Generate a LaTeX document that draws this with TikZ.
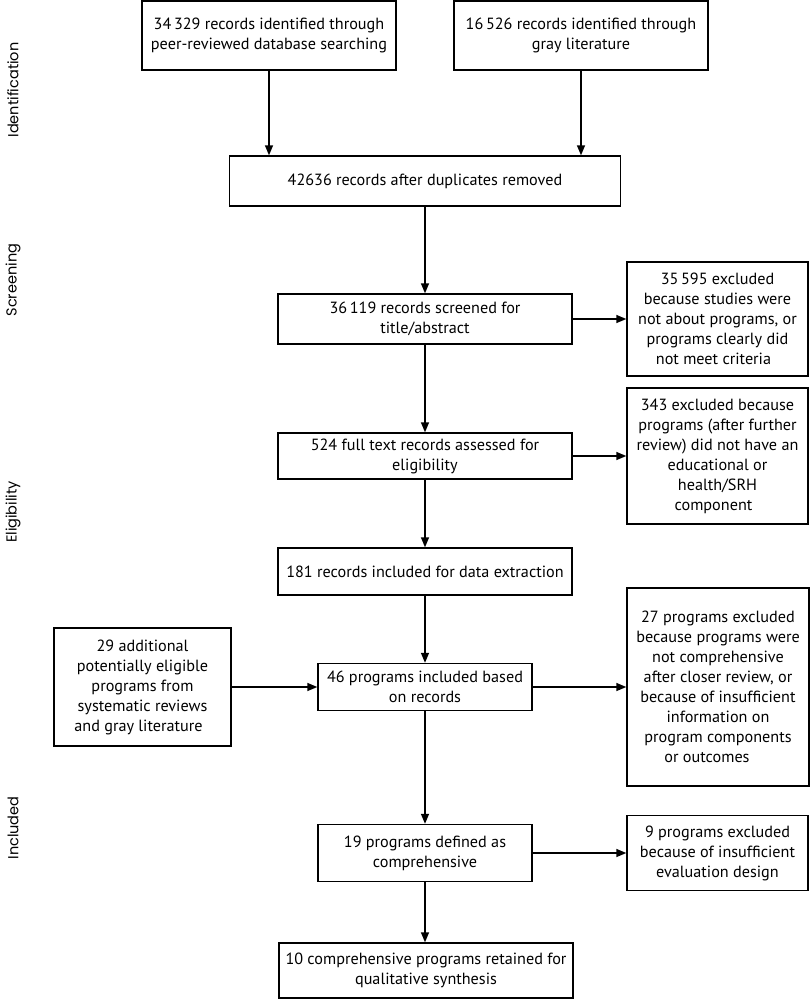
\documentclass[tikz,border=0pt]{standalone}
\usepackage{fontspec}
\setmainfont{PT Sans}
\newfontfamily\sidefont{Poppins}
\usetikzlibrary{arrows.meta}
\begin{document}
\begin{tikzpicture}[x=1pt,y=-1pt,
  box/.style={draw=black, line width=1.4pt, align=center, inner sep=0pt,
    font=\fontsize{16.2}{20}\selectfont},
  side/.style={rotate=90, font=\sidefont\fontsize{14.5}{16}\selectfont},
  arr/.style={line width=1.4pt, -{Triangle[length=10pt,width=8pt]}}
]
\useasboundingbox (0,0) rectangle (810,999);
% side labels
\node[side] (s1) at (13,90) {Identification};
\node[side] (s2) at (13,280) {Screening};
\node[side] (s3) at (13,512) {Eligibility};
\node[side] (s4) at (13,828) {Included};
% boxes
\node[box, minimum width=254, minimum height=69] (a) at (269,35.5)
  {34\,329 records identified through\\peer-reviewed database searching};
\node[box, minimum width=254, minimum height=69] (b) at (581,35.5)
  {16\,526 records identified through\\gray literature};
\node[box, minimum width=391, minimum height=50] (c) at (425,181)
  {42636 records after duplicates removed};
\node[box, minimum width=294, minimum height=50] (d) at (425,319)
  {36\,119 records screened for\\title/abstract};
\node[box, minimum width=181, minimum height=114] (x1) at (717.5,319)
  {35\,595 excluded\\because studies were\\not about programs, or\\programs clearly did\\not meet criteria\hspace*{8pt}};
\node[box, minimum width=294, minimum height=46] (e) at (425,456)
  {524 full text records assessed for\\eligibility};
\node[box, minimum width=181, minimum height=136] (x2) at (717.5,456)
  {343 excluded because\\programs (after further\\review) did not have an\\educational or\\health/SRH\\component\hspace*{8pt}};
\node[box, minimum width=294, minimum height=47] (f) at (425,571.5)
  {181 records included for data extraction};
\node[box, minimum width=214, minimum height=47] (g) at (425,687)
  {46 programs included based\\on records};
\node[box, minimum width=177, minimum height=118] (l) at (142.5,687)
  {29 additional\\potentially eligible\\programs from\\systematic reviews\\and gray literature\hspace*{8pt}};
\node[box, minimum width=182, minimum height=198] (x3) at (718,687)
  {27 programs excluded\\because programs were\\not comprehensive\\after closer review, or\\because of insufficient\\information on\\program components\\or outcomes\hspace*{22pt}};
\node[box, minimum width=214, minimum height=57] (h) at (425,853)
  {19 programs defined as\\comprehensive};
\node[box, minimum width=181, minimum height=75] (x4) at (717.5,853)
  {9 programs excluded\\because of insufficient\\evaluation design};
\node[box, minimum width=294, minimum height=55] (i) at (426,970.5)
  {10 comprehensive programs retained for\\qualitative synthesis};
% connectors
\draw[arr] (a.south) -- (a.south |- c.north);
\draw[arr] (b.south) -- (b.south |- c.north);
\draw[arr] (c.south) -- (c.south |- d.north);
\draw[arr] (d.east) -- (d.east -| x1.west);
\draw[arr] (d.south) -- (e.north);
\draw[arr] (e.east) -- (e.east -| x2.west);
\draw[arr] (e.south) -- (f.north);
\draw[arr] (f.south) -- (g.north);
\draw[arr] (l.east) -- (l.east -| g.west);
\draw[arr] (g.east) -- (g.east -| x3.west);
\draw[arr] (g.south) -- (h.north);
\draw[arr] (h.east) -- (h.east -| x4.west);
\draw[arr] (h.south) -- (h.south |- i.north);
\end{tikzpicture}
\end{document}
